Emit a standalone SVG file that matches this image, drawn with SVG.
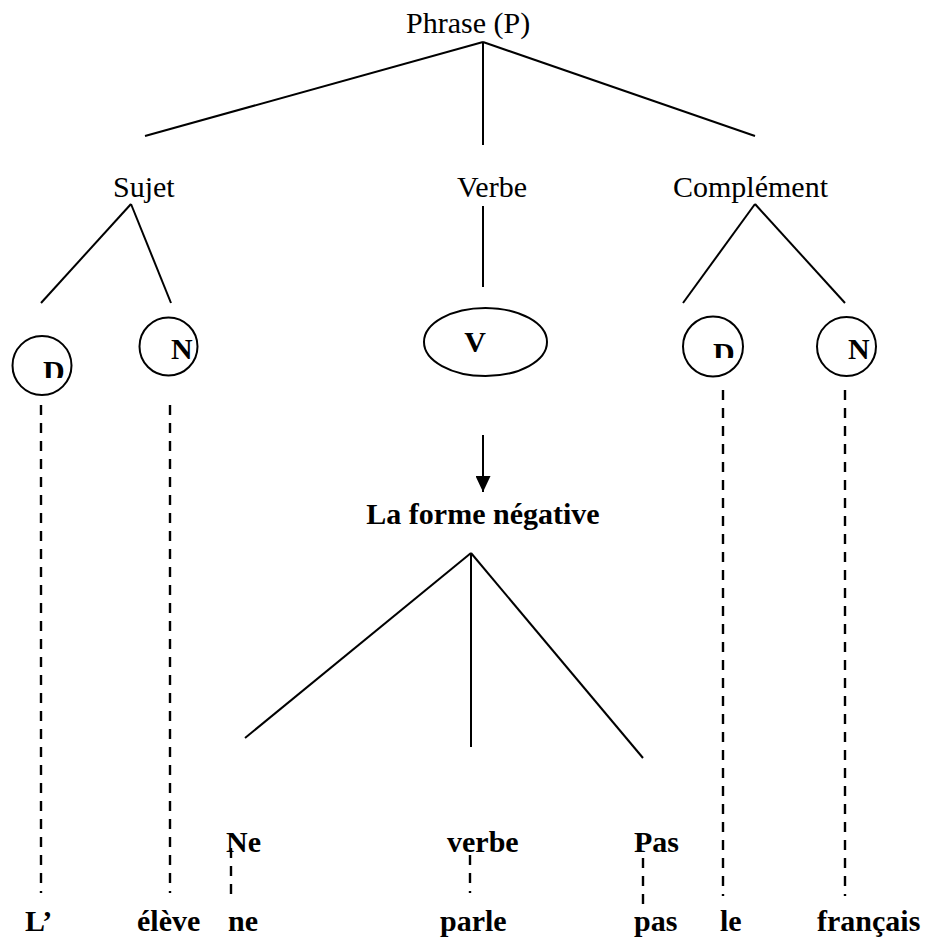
<svg xmlns="http://www.w3.org/2000/svg" width="928" height="943" viewBox="0 0 928 943">
<style>
text{font-family:"Liberation Serif","Times New Roman",serif;font-size:30px;fill:#000}
.b{font-weight:bold}
.ln{stroke:#000;stroke-width:2;fill:none}
.ds{stroke:#000;stroke-width:2.4;fill:none;stroke-dasharray:10 8}
.sh{stroke:#000;stroke-width:2;fill:#fff}
</style>
<defs>
<marker id="ah" viewBox="0 0 16 15" refX="16" refY="7.5" markerWidth="16" markerHeight="15" markerUnits="userSpaceOnUse" orient="auto">
<path d="M0,0 L16,7.5 L0,15 Z" fill="#000"/>
</marker>
<clipPath id="cD1"><rect x="30" y="340" width="50" height="38"/></clipPath>
<clipPath id="cD2"><rect x="700" y="330" width="50" height="28"/></clipPath>
</defs>
<rect width="928" height="943" fill="#fff"/>
<g id="connectors">
<line class="ln" x1="483" y1="42" x2="145" y2="136"/>
<line class="ln" x1="483" y1="42" x2="483" y2="145"/>
<line class="ln" x1="483" y1="42" x2="755" y2="136"/>
<line class="ln" x1="131" y1="204" x2="41" y2="303"/>
<line class="ln" x1="131" y1="204" x2="171" y2="303"/>
<line class="ln" x1="483" y1="206" x2="483" y2="287"/>
<line class="ln" x1="755" y1="204" x2="683" y2="303"/>
<line class="ln" x1="755" y1="204" x2="845" y2="303"/>
<line class="ln" x1="483" y1="435" x2="483" y2="492" marker-end="url(#ah)"/>
<line class="ln" x1="471" y1="553" x2="245" y2="738"/>
<line class="ln" x1="471" y1="553" x2="471" y2="747"/>
<line class="ln" x1="471" y1="553" x2="643" y2="758"/>
<line class="ds" x1="41" y1="405" x2="41" y2="893"/>
<line class="ds" x1="170" y1="405" x2="170" y2="893"/>
<line class="ds" x1="723" y1="390" x2="723" y2="896"/>
<line class="ds" x1="845" y1="390" x2="845" y2="896"/>
<line class="ds" x1="231" y1="848" x2="231" y2="897"/>
<line class="ds" x1="470" y1="855" x2="470" y2="893"/>
<line class="ds" x1="643" y1="858" x2="643" y2="905"/>
</g>
<g id="phrase"><text x="406" y="33">Phrase (P)</text></g>
<g id="sujet"><text x="113" y="197">Sujet</text></g>
<g id="verbe"><text x="457" y="197">Verbe</text></g>
<g id="complement"><text x="673" y="197">Complément</text></g>
<g id="sujet-d"><circle class="sh" cx="42" cy="365.5" r="29.5"/><text class="b" x="43" y="381" font-size="26" clip-path="url(#cD1)">D</text></g>
<g id="sujet-n"><circle class="sh" cx="168.5" cy="346.5" r="29"/><text class="b" x="171" y="359" font-size="24">N</text></g>
<g id="verbe-v"><ellipse class="sh" cx="485.5" cy="342" rx="61.5" ry="34"/><text class="b" x="475" y="352" text-anchor="middle">V</text></g>
<g id="comp-d"><circle class="sh" cx="713" cy="346.5" r="30"/><text class="b" x="713" y="363" font-size="26" clip-path="url(#cD2)">D</text></g>
<g id="comp-n"><circle class="sh" cx="846.5" cy="346.5" r="29.5"/><text class="b" x="848" y="359" font-size="24">N</text></g>
<g id="forme-negative"><text class="b" x="483" y="524" text-anchor="middle">La forme négative</text></g>
<g id="ne-node"><text class="b" x="226" y="852">Ne</text></g>
<g id="verbe-node"><text class="b" x="447" y="852">verbe</text></g>
<g id="pas-node"><text class="b" x="634" y="852">Pas</text></g>
<g id="words">
<text class="b" x="25" y="931">L’</text>
<text class="b" x="137" y="931">élève</text>
<text class="b" x="228" y="931">ne</text>
<text class="b" x="440" y="931">parle</text>
<text class="b" x="634" y="931">pas</text>
<text class="b" x="720" y="931">le</text>
<text class="b" x="817" y="931">français</text>
</g>
</svg>
